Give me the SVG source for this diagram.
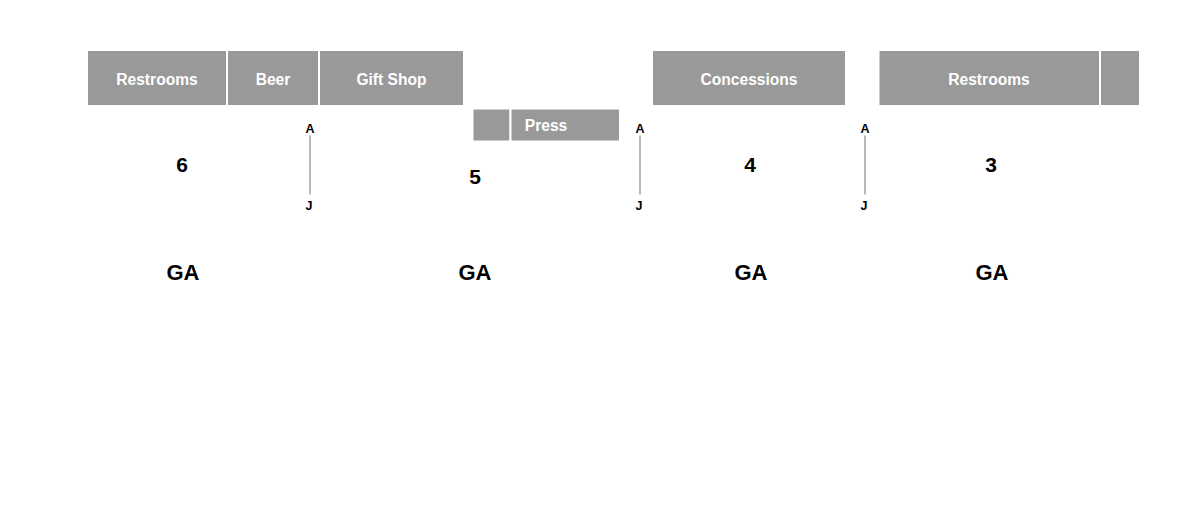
<svg xmlns="http://www.w3.org/2000/svg" width="1200" height="521" viewBox="0 0 1200 521">
<style>
.box{fill:#999999;stroke:#ffffff;stroke-width:2}
.lbl{font-family:"Liberation Sans",Arial,sans-serif;font-weight:bold;font-size:15.6px;fill:#ffffff;text-anchor:middle}
.num{font-family:"Liberation Sans",Arial,sans-serif;font-weight:bold;font-size:21px;fill:#000000;text-anchor:middle}
.ga{font-family:"Liberation Sans",Arial,sans-serif;font-weight:bold;font-size:22px;fill:#000000;text-anchor:middle}
.aj{font-family:"Liberation Sans",Arial,sans-serif;font-weight:bold;font-size:12.5px;fill:#000000;text-anchor:middle}
</style>
<rect width="1200" height="521" fill="#ffffff"/>
<g id="restrooms-left"><rect class="box" x="87" y="50" width="140" height="56"/><text class="lbl" x="157" y="85">Restrooms</text></g>
<g id="beer"><rect class="box" x="227" y="50" width="92" height="56"/><text class="lbl" x="273" y="85">Beer</text></g>
<g id="gift-shop"><rect class="box" x="319" y="50" width="145" height="56"/><text class="lbl" x="391.5" y="85">Gift Shop</text></g>
<g id="press-small"><rect class="box" x="472.5" y="108.5" width="38" height="33"/></g>
<g id="press"><rect class="box" x="510.5" y="108.5" width="109.5" height="33"/><text class="lbl" x="546" y="131">Press</text></g>
<g id="concessions"><rect class="box" x="652" y="50" width="194" height="56"/><text class="lbl" x="749" y="85">Concessions</text></g>
<g id="restrooms-right"><rect class="box" x="878.5" y="50" width="221.5" height="56"/><text class="lbl" x="989" y="85">Restrooms</text></g>
<g id="end-box"><rect class="box" x="1100" y="50" width="40" height="56"/></g>
<g id="connectors">
<line x1="310" y1="135.5" x2="310" y2="194.5" stroke="#a0a0a0" stroke-width="1.5"/>
<line x1="640" y1="135.5" x2="640" y2="194.5" stroke="#707070" stroke-width="1"/>
<line x1="865" y1="135.5" x2="865" y2="194.5" stroke="#707070" stroke-width="1"/>
</g>
<g id="aisle-1"><text class="aj" x="310" y="133">A</text><text class="aj" x="309" y="209.5">J</text></g>
<g id="aisle-2"><text class="aj" x="640" y="133">A</text><text class="aj" x="639" y="209.5">J</text></g>
<g id="aisle-3"><text class="aj" x="865" y="133">A</text><text class="aj" x="864" y="209.5">J</text></g>
<g id="section-6"><text class="num" x="182" y="172">6</text><text class="ga" x="183" y="280">GA</text></g>
<g id="section-5"><text class="num" x="475" y="184">5</text><text class="ga" x="475" y="280">GA</text></g>
<g id="section-4"><text class="num" x="750" y="172">4</text><text class="ga" x="751" y="280">GA</text></g>
<g id="section-3"><text class="num" x="991" y="172">3</text><text class="ga" x="992" y="280">GA</text></g>
</svg>
